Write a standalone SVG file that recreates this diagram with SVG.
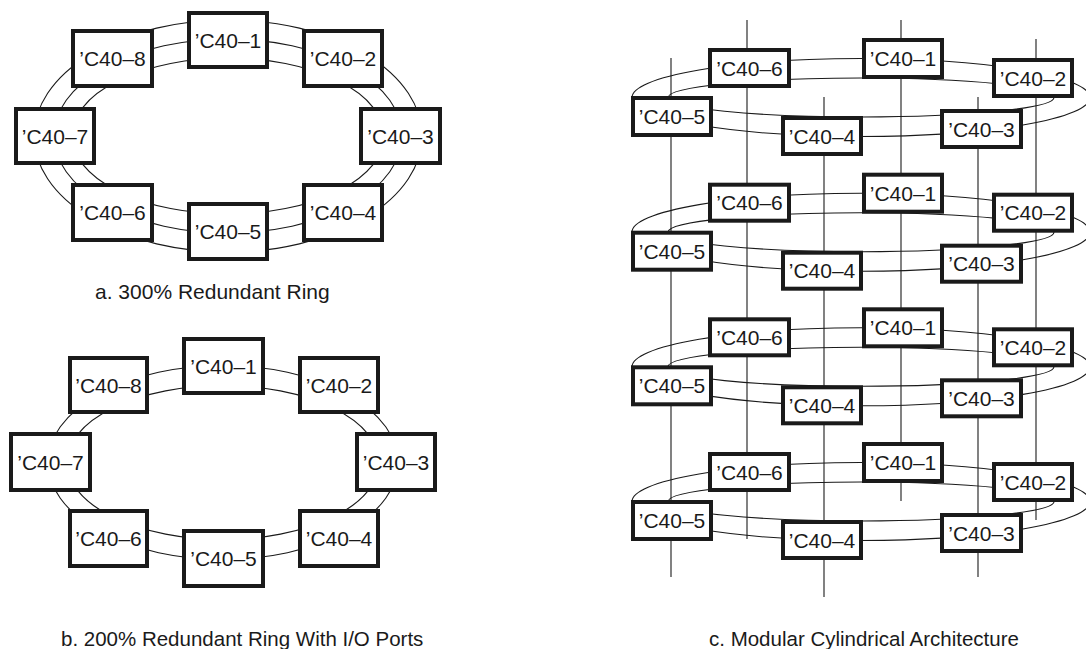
<svg xmlns="http://www.w3.org/2000/svg" width="1086" height="649" viewBox="0 0 1086 649">
<style>
.n rect{fill:#fff;stroke:#1a1a1a;stroke-width:4}
text{font-family:"Liberation Sans",Arial,sans-serif;font-size:21px;fill:#1a1a1a;text-anchor:middle}
.cap{font-size:20.5px;text-anchor:start}
.c ellipse,.c line{fill:none;stroke:#1a1a1a;stroke-width:1.1}
</style>
<rect width="1086" height="649" fill="#fff"/>
<defs>
<g id="ringc" fill="none" stroke="#1a1a1a" stroke-width="1.1">
<ellipse cx="861" cy="97.5" rx="229" ry="39" fill="none" stroke="#1a1a1a" stroke-width="1.1"/>
<ellipse cx="861" cy="97.5" rx="193" ry="19.5" fill="none" stroke="#1a1a1a" stroke-width="1.1"/>
</g>
</defs>
<g id="connectors" class="c">
<ellipse cx="228" cy="136" rx="194" ry="116"/>
<ellipse cx="228" cy="136" rx="174" ry="97"/>
<ellipse cx="228" cy="136" rx="156" ry="78"/>
<ellipse cx="223" cy="462.5" rx="175" ry="97"/>
<ellipse cx="223" cy="462.5" rx="156" ry="77"/>
<use href="#ringc"/>
<use href="#ringc" transform="translate(0,134.7)"/>
<use href="#ringc" transform="translate(0,269.3)"/>
<use href="#ringc" transform="translate(0,404)"/>
<line x1="671" y1="58" x2="671" y2="577"/>
<line x1="747" y1="20" x2="747" y2="539"/>
<line x1="824" y1="97" x2="824" y2="597"/>
<line x1="901" y1="20" x2="901" y2="501"/>
<line x1="978" y1="97" x2="978" y2="577"/>
<line x1="1036" y1="39" x2="1036" y2="520"/>
</g>
<g id="ringA">
<g id="a1" class="n"><rect x="189" y="13" width="78" height="54"/><text x="228" y="47.5">’C40–1</text></g>
<g id="a2" class="n"><rect x="304" y="31" width="78" height="55"/><text x="343" y="66">’C40–2</text></g>
<g id="a3" class="n"><rect x="361" y="109" width="79" height="54"/><text x="400.5" y="143.5">’C40–3</text></g>
<g id="a4" class="n"><rect x="304" y="185" width="78" height="55"/><text x="343" y="220">’C40–4</text></g>
<g id="a5" class="n"><rect x="189" y="204" width="78" height="55"/><text x="228" y="239">’C40–5</text></g>
<g id="a6" class="n"><rect x="73" y="185" width="79" height="55"/><text x="112.5" y="220">’C40–6</text></g>
<g id="a7" class="n"><rect x="16" y="109" width="78" height="54"/><text x="55" y="143.5">’C40–7</text></g>
<g id="a8" class="n"><rect x="73" y="31" width="79" height="55"/><text x="112.5" y="66">’C40–8</text></g>
<text id="capA" class="cap" x="95" y="299" style="font-size:21px">a. 300% Redundant Ring</text>
</g>
<g id="ringB">
<g id="b1" class="n"><rect x="184" y="339" width="79" height="54"/><text x="223.5" y="373.5">’C40–1</text></g>
<g id="b2" class="n"><rect x="300" y="358" width="78" height="54"/><text x="339" y="392.5">’C40–2</text></g>
<g id="b3" class="n"><rect x="357" y="434" width="78" height="56"/><text x="396" y="469.5">’C40–3</text></g>
<g id="b4" class="n"><rect x="300" y="511" width="78" height="55"/><text x="339" y="546">’C40–4</text></g>
<g id="b5" class="n"><rect x="184" y="531" width="79" height="55"/><text x="223.5" y="566">’C40–5</text></g>
<g id="b6" class="n"><rect x="70" y="511" width="77" height="55"/><text x="108.5" y="546">’C40–6</text></g>
<g id="b7" class="n"><rect x="11" y="434" width="79" height="56"/><text x="50.5" y="469.5">’C40–7</text></g>
<g id="b8" class="n"><rect x="70" y="358" width="77" height="54"/><text x="108.5" y="392.5">’C40–8</text></g>
<text id="capB" class="cap" x="61" y="646">b. 200% Redundant Ring With I/O Ports</text>
</g>
<g id="cyl">
<g id="L1">
<g id="c1-6" class="n"><rect x="710" y="50" width="79" height="36"/><text x="749.5" y="75.5">’C40–6</text></g>
<g id="c1-1" class="n"><rect x="864" y="40" width="78" height="37"/><text x="903" y="66">’C40–1</text></g>
<g id="c1-2" class="n"><rect x="994" y="60" width="78" height="36"/><text x="1033" y="85.5">’C40–2</text></g>
<g id="c1-5" class="n"><rect x="633" y="98" width="78" height="37"/><text x="672" y="124">’C40–5</text></g>
<g id="c1-4" class="n"><rect x="783" y="118" width="78" height="36"/><text x="822" y="143.5">’C40–4</text></g>
<g id="c1-3" class="n"><rect x="942" y="111" width="79" height="36"/><text x="981.5" y="136.5">’C40–3</text></g>
</g>
<g id="L2" transform="translate(0,134.7)">
<g id="c2-6" class="n"><rect x="710" y="50" width="79" height="36"/><text x="749.5" y="75.5">’C40–6</text></g>
<g id="c2-1" class="n"><rect x="864" y="40" width="78" height="37"/><text x="903" y="66">’C40–1</text></g>
<g id="c2-2" class="n"><rect x="994" y="60" width="78" height="36"/><text x="1033" y="85.5">’C40–2</text></g>
<g id="c2-5" class="n"><rect x="633" y="98" width="78" height="37"/><text x="672" y="124">’C40–5</text></g>
<g id="c2-4" class="n"><rect x="783" y="118" width="78" height="36"/><text x="822" y="143.5">’C40–4</text></g>
<g id="c2-3" class="n"><rect x="942" y="111" width="79" height="36"/><text x="981.5" y="136.5">’C40–3</text></g>
</g>
<g id="L3" transform="translate(0,269.3)">
<g id="c3-6" class="n"><rect x="710" y="50" width="79" height="36"/><text x="749.5" y="75.5">’C40–6</text></g>
<g id="c3-1" class="n"><rect x="864" y="40" width="78" height="37"/><text x="903" y="66">’C40–1</text></g>
<g id="c3-2" class="n"><rect x="994" y="60" width="78" height="36"/><text x="1033" y="85.5">’C40–2</text></g>
<g id="c3-5" class="n"><rect x="633" y="98" width="78" height="37"/><text x="672" y="124">’C40–5</text></g>
<g id="c3-4" class="n"><rect x="783" y="118" width="78" height="36"/><text x="822" y="143.5">’C40–4</text></g>
<g id="c3-3" class="n"><rect x="942" y="111" width="79" height="36"/><text x="981.5" y="136.5">’C40–3</text></g>
</g>
<g id="L4" transform="translate(0,404)">
<g id="c4-6" class="n"><rect x="710" y="50" width="79" height="36"/><text x="749.5" y="75.5">’C40–6</text></g>
<g id="c4-1" class="n"><rect x="864" y="40" width="78" height="37"/><text x="903" y="66">’C40–1</text></g>
<g id="c4-2" class="n"><rect x="994" y="60" width="78" height="36"/><text x="1033" y="85.5">’C40–2</text></g>
<g id="c4-5" class="n"><rect x="633" y="98" width="78" height="37"/><text x="672" y="124">’C40–5</text></g>
<g id="c4-4" class="n"><rect x="783" y="118" width="78" height="36"/><text x="822" y="143.5">’C40–4</text></g>
<g id="c4-3" class="n"><rect x="942" y="111" width="79" height="36"/><text x="981.5" y="136.5">’C40–3</text></g>
</g>
<text id="capC" class="cap" x="709" y="646">c. Modular Cylindrical Architecture</text>
</g>
</svg>
